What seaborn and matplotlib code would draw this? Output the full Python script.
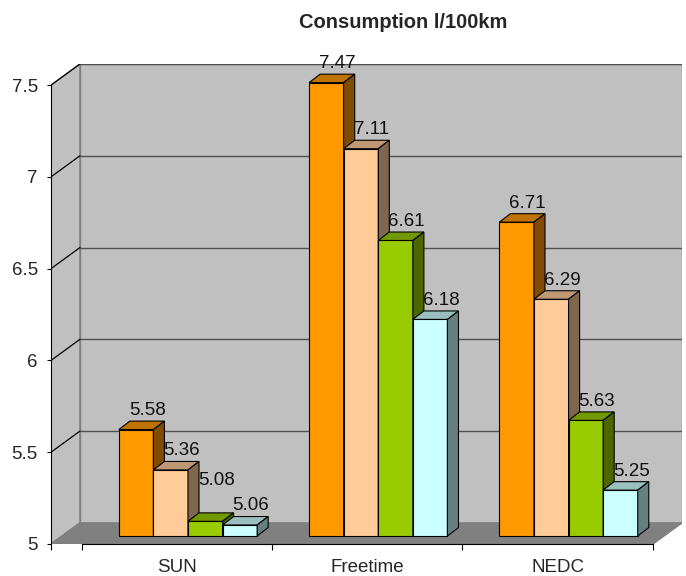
import numpy as np
import pandas as pd
import matplotlib
matplotlib.use("Agg")
import matplotlib.pyplot as plt
import matplotlib.colors as mcolors
from matplotlib.transforms import ScaledTranslation
import seaborn as sns

# chart values
categories = ["SUN", "Freetime", "NEDC"]
series_names = ["Series 1", "Series 2", "Series 3", "Series 4"]
s1 = [5.58, 7.47, 6.71]
s2 = [5.36, 7.11, 6.29]
s3 = [5.08, 6.61, 5.63]
s4 = [5.06, 6.18, 5.25]
y_ticks = [5, 5.5, 6, 6.5, 7, 7.5]
y_tick_labels = ["5", "5.5", "6", "6.5", "7", "7.5"]
colors = ["#FF9900", "#FFCC99", "#99CC00", "#CCFFFF"]

df = pd.DataFrame({
    "test": categories * 4,
    "series": np.repeat(series_names, len(categories)),
    "consumption": s1 + s2 + s3 + s4,
})

sns.set_style("white")
plt.rcParams["font.family"] = ["Liberation Sans", "DejaVu Sans"]

fig = plt.figure(figsize=(6.86, 5.76), dpi=100)
ax = fig.add_axes([51 / 686, 32 / 576, 631 / 686, 480 / 576])

# 3D box geometry (data units)
Y0, Y1 = 5.0, 7.5
XL, XR = -0.662, 2.654      # front-left corner, back-right corner
DX, DY = 0.152, 0.115       # wall depth
ddx, ddy = 0.058, 0.046     # bar depth

# walls and floor
ax.fill([XL, XL, XL + DX, XL + DX], [Y0, Y1, Y1 + DY, Y0 + DY],
        color="#C0C0C0", ec="#808080", lw=1, zorder=0.5)
ax.fill([XL + DX, XL + DX, XR, XR], [Y0 + DY, Y1 + DY, Y1 + DY, Y0 + DY],
        color="#C0C0C0", ec="#808080", lw=1, zorder=0.5)
ax.fill([XL, XR - DX, XR, XL + DX], [Y0, Y0, Y0 + DY, Y0 + DY],
        color="#808080", ec="#808080", lw=1, zorder=0.6)
for v in y_ticks[1:]:
    ax.plot([XL + DX, XR], [v + DY, v + DY], color="#505050", lw=1, zorder=0.8)
    ax.plot([XL, XL + DX], [v, v + DY], color="black", lw=0.9, zorder=0.8)

sns.barplot(data=df, x="test", y="consumption", hue="series", palette=colors,
            width=0.727, saturation=1, errorbar=None, legend=False,
            edgecolor="black", linewidth=0.8, ax=ax)

shift = ax.transData + ScaledTranslation(0.11, 0.08, fig.dpi_scale_trans)

# Excel lifted this one label clear of the neighbouring bar
label_lift = {(2, 0): 16}

for k, cont in enumerate(ax.containers):
    base = np.array(mcolors.to_rgb(colors[k]))
    for j, (bar, val) in enumerate(zip(cont.patches, cont.datavalues)):
        x, w = bar.get_x(), bar.get_width()
        bar.set_y(Y0)
        bar.set_height(val - Y0)
        bar.set_transform(shift)
        bar.set_zorder(3 + 0.1 * k)
        # top face
        ax.fill([x, x + w, x + w + ddx, x + ddx], [val, val, val + ddy, val + ddy],
                color=base * 0.75, ec="black", lw=0.8, transform=shift,
                zorder=3.05 + 0.1 * k)
        # side face
        ax.fill([x + w, x + w, x + w + ddx, x + w + ddx],
                [Y0, val, val + ddy, Y0 + ddy],
                color=base * 0.5, ec="black", lw=0.8, transform=shift,
                zorder=3.05 + 0.1 * k)
        ax.annotate(f"{val:.2f}", xy=(x + w / 2 + ddx / 2, val + ddy),
                    xycoords=shift, xytext=(4, 1.5 + label_lift.get((k, j), 0)),
                    textcoords="offset points",
                    ha="center", va="bottom", fontsize=13.5, color="#111111", zorder=5)

ax.set_xlim(XL, XR)
ax.set_ylim(Y0, Y1 + DY)
ax.set_xlabel("")
ax.set_ylabel("")

ax.set_yticks(y_ticks, labels=y_tick_labels)
ax.set_xticks([XL, -0.5, 0.5, 1.5, 2.5], labels=[""] * 5)
ax.set_xticks(range(len(categories)), labels=categories, minor=True)
ax.tick_params(axis="y", length=3, width=0.8, pad=6.5, labelsize=13.5, color="black", left=True)
ax.tick_params(axis="x", which="major", length=4, width=0.8, color="black", bottom=True)
ax.tick_params(axis="x", which="minor", length=0, pad=11, labelsize=13.5)

for side in ["top", "right"]:
    ax.spines[side].set_visible(False)
ax.spines["left"].set_bounds(Y0, Y1)
ax.spines["bottom"].set_bounds(-0.5, 2.5)
for side in ["left", "bottom"]:
    ax.spines[side].set_color("black")
    ax.spines[side].set_linewidth(0.8)
ax.patch.set_alpha(0)

fig.text(403 / 686, 1 - 22 / 576, "Consumption l/100km", ha="center", va="center",
         fontsize=14.5, fontweight="bold")

fig.savefig("out.png", dpi=100, facecolor="white")
